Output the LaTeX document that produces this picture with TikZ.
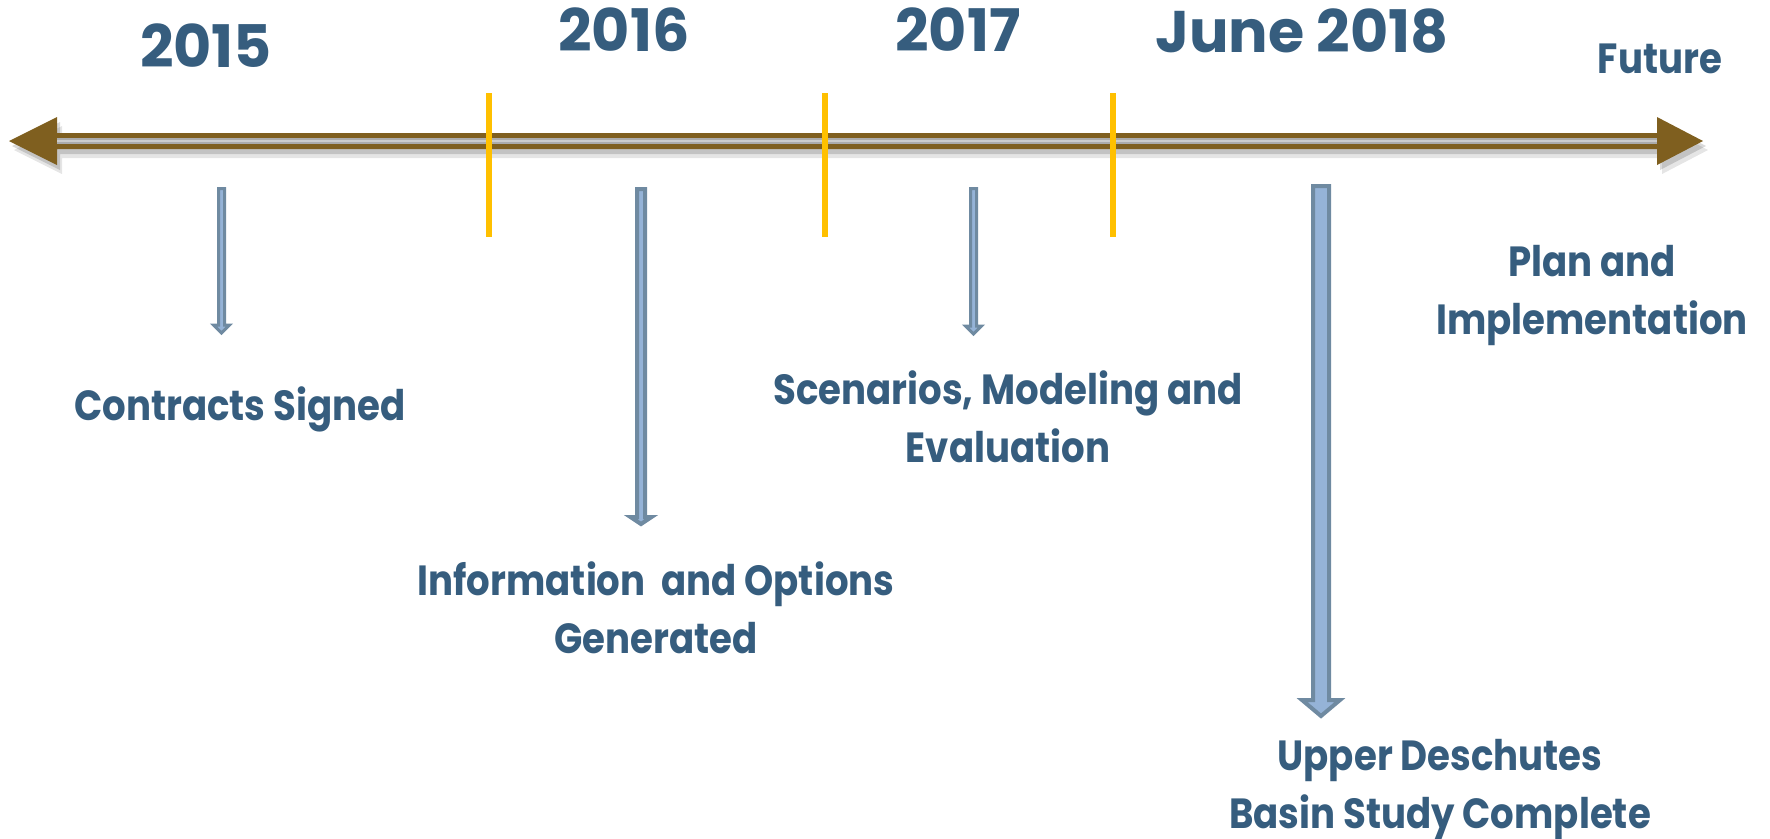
\documentclass[tikz,border=0pt]{standalone}
\usepackage{fontspec}
\setmainfont{Poppins}
\newfontfamily\lblfont{Poppins}[FakeStretch=0.88]
\usetikzlibrary{calc,positioning}

\definecolor{txtblue}{HTML}{365D7E}
\definecolor{lineBrown}{HTML}{7F5F1F}
\definecolor{tickYellow}{HTML}{FFC000}
\definecolor{arrowFill}{HTML}{95B3D7}
\definecolor{arrowEdge}{HTML}{6F8AA1}

% block arrow pointing down: #2 top, #3 tip, #4 shaft half width, #5 head half width, #6 head length
\newcommand{\blockdown}[6][]{%
  \draw[blockarrow,#1] ($(#2)+(-#4,0)$) -- ($(#2)+(#4,0)$) -- ($(#3)+(#4,-#6)$) -- ($(#3)+(#5,-#6)$)
    -- (#3) -- ($(#3)+(-#5,-#6)$) -- ($(#3)+(-#4,-#6)$) -- cycle;}

\begin{document}
\begin{tikzpicture}[%
    x=0.1mm, y=-0.1mm,          % one unit is one pixel of the slide
    ]

\tikzset{
    lbl/.style={font={\lblfont\fontsize{12}{16.5}\selectfont\bfseries}, text=txtblue, align=center, inner sep=0pt, anchor=base},
    yr/.style={lbl, font={\fontsize{16.7}{20}\selectfont\bfseries}},
    tick/.style={draw=tickYellow, line width=0.6mm},
    blockarrow/.style={draw=arrowEdge, fill=arrowFill, line width=0.3mm},
    bigarrow/.style={line width=0.4mm},
    band/.pic={\path[pic actions] (9,141) -- (57,117) -- (57,133) -- (1657,133) -- (1657,117)
        -- (1703,141) -- (1657,165) -- (1657,149) -- (57,149) -- (57,165) -- cycle;},
}

\useasboundingbox (0,0) rectangle (1770,838);

%% Timeline
\pic[fill=black, opacity=0.10] at (5,9) {band};
\pic[fill=black, opacity=0.15] at (3,5) {band};
\pic[fill=lineBrown] at (0,0) {band};
\fill[black!33] (57,138) rectangle (1657,144);
\draw[black!20, line width=0.15mm] (57,141) -- (1657,141);

%% Year separators
\foreach \tx in {489,825,1113}
    \draw[tick] (\tx,93) -- (\tx,237);

%% Years
\node[yr] (y2015) at (206,67) {2015};
\node[yr] (y2016) at (624,51) {2016};
\node[yr] (y2017) at (958,51) {2017};
\node[yr] (y2018) at (1302,52) {June 2018};
\node[lbl] (future) at (1660,73) {Future};

%% Milestones (base = last line)
\node[lbl] (contracts) at (240,420) {Contracts Signed};
\node[lbl] (info) at (656,653) {Information~ and Options\\Generated};
\node[lbl] (scen) at (1008,462) {Scenarios, Modeling and\\Evaluation};
\node[lbl] (plan) at (1592,334) {Plan and\\Implementation};
\node[lbl] (basin) at (1440,828) {Upper Deschutes\\Basin Study Complete};

%% Arrows
\coordinate (a2015) at (221.5,188.5);  \coordinate (a2015 tip) at (221.5,333);
\coordinate (a2016) at (641,189);      \coordinate (a2016 tip) at (641,524);
\coordinate (a2017) at (973.5,188.5);  \coordinate (a2017 tip) at (973.5,334);
\coordinate (a2018) at (1321,186);     \coordinate (a2018 tip) at (1321,716);
\blockdown{a2015}{a2015 tip}{3}{8}{8}
\blockdown[bigarrow]{a2016}{a2016 tip}{4}{10.5}{7}
\blockdown{a2017}{a2017 tip}{3}{8}{8}
\blockdown[bigarrow]{a2018}{a2018 tip}{8}{19}{16}
\end{tikzpicture}
\end{document}
